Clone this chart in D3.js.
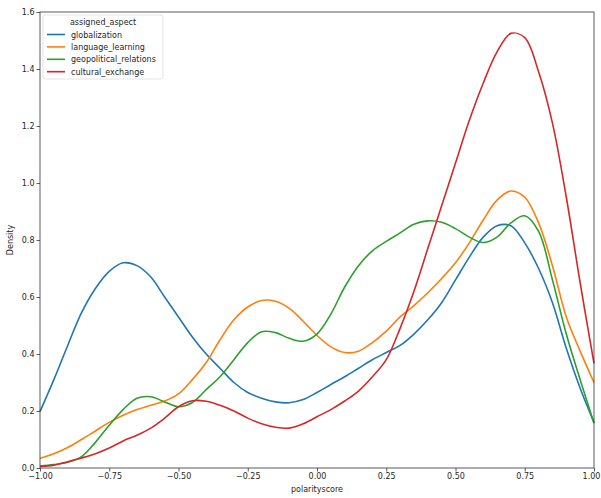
<!DOCTYPE html>
<html>
<head>
<meta charset="utf-8">
<script src="https://cdn.jsdelivr.net/npm/d3@7"></script>
<style>
  body { margin: 0; background: #fff; }
  text { font-family: "DejaVu Sans", sans-serif; fill: #262626; }
</style>
</head>
<body>
<div id="chart"></div>
<script>
// polarity grid shared by all series
const xs = d3.range(41).map(i => -1 + i * 0.05)

const aspects = ["globalization", "language_learning", "geopolitical_relations", "cultural_exchange"]
const colors = ["#1f77b4", "#ff7f0e", "#2ca02c", "#d62728"]

const globalization = [0.198, 0.31, 0.43, 0.545, 0.63, 0.69, 0.72, 0.71, 0.67, 0.60, 0.53, 0.46, 0.40, 0.35, 0.30, 0.265, 0.245, 0.232, 0.229, 0.24, 0.265, 0.293, 0.32, 0.35, 0.38, 0.405, 0.43, 0.47, 0.52, 0.58, 0.66, 0.74, 0.81, 0.85, 0.85, 0.79, 0.70, 0.58, 0.42, 0.28, 0.16]
const language_learning = [0.034, 0.05, 0.072, 0.10, 0.13, 0.16, 0.185, 0.205, 0.22, 0.235, 0.26, 0.31, 0.37, 0.45, 0.52, 0.565, 0.588, 0.585, 0.56, 0.515, 0.465, 0.425, 0.405, 0.41, 0.44, 0.48, 0.53, 0.57, 0.615, 0.665, 0.72, 0.79, 0.87, 0.94, 0.972, 0.95, 0.86, 0.71, 0.53, 0.41, 0.30]
const geopolitical_relations = [0.007, 0.012, 0.02, 0.04, 0.09, 0.15, 0.205, 0.245, 0.25, 0.232, 0.215, 0.23, 0.275, 0.32, 0.38, 0.44, 0.478, 0.475, 0.455, 0.445, 0.47, 0.54, 0.635, 0.71, 0.762, 0.795, 0.825, 0.855, 0.867, 0.862, 0.84, 0.81, 0.791, 0.81, 0.86, 0.885, 0.83, 0.66, 0.47, 0.31, 0.157]
const cultural_exchange = [0.005, 0.01, 0.022, 0.035, 0.05, 0.07, 0.095, 0.115, 0.14, 0.175, 0.215, 0.236, 0.234, 0.22, 0.2, 0.175, 0.155, 0.143, 0.14, 0.155, 0.18, 0.205, 0.235, 0.27, 0.32, 0.38, 0.49, 0.62, 0.77, 0.92, 1.07, 1.22, 1.35, 1.46, 1.525, 1.51, 1.39, 1.21, 0.95, 0.65, 0.367]

const xTicks = [-1, -0.75, -0.5, -0.25, 0, 0.25, 0.5, 0.75, 1]
const yTicks = [0, 0.2, 0.4, 0.6, 0.8, 1.0, 1.2, 1.4, 1.6]

const series = [globalization, language_learning, geopolitical_relations, cultural_exchange]

const MARGIN = { TOP: 12, BOTTOM: 30, LEFT: 40, RIGHT: 7 }
const W = 601, H = 498
const WIDTH = W - MARGIN.LEFT - MARGIN.RIGHT
const HEIGHT = H - MARGIN.TOP - MARGIN.BOTTOM

const svg = d3.select("#chart").append("svg")
    .attr("width", W)
    .attr("height", H)

const g = svg.append("g")
    .attr("transform", `translate(${MARGIN.LEFT}, ${MARGIN.TOP})`)

const x = d3.scaleLinear().domain([-1, 1]).range([0, WIDTH])
const y = d3.scaleLinear().domain([0, 1.6]).range([HEIGHT, 0])

const fmtX = d => d3.format(".2f")(d).replace("-", "\u2212")

const xAxis = g.append("g")
    .attr("transform", `translate(0, ${HEIGHT})`)
    .call(d3.axisBottom(x).tickValues(xTicks).tickFormat(fmtX).tickSize(3.5).tickPadding(2))
const yAxis = g.append("g")
    .call(d3.axisLeft(y).tickValues(yTicks).tickFormat(d3.format(".1f")).tickSize(3.5).tickPadding(2))

;[xAxis, yAxis].forEach(a => {
    a.select(".domain").remove()
    a.selectAll("line").attr("stroke", "#333").attr("stroke-width", 0.8)
    a.selectAll("text").style("font-size", "8px").attr("fill", "#262626")
})
// last x label sits on the window edge, nudge it in so it is not clipped
xAxis.selectAll(".tick text").filter(d => d === 1).attr("dx", "-3")

// curves
const line = d3.line()
    .x((d, i) => x(xs[i]))
    .y(d => y(d))
    .curve(d3.curveCatmullRom.alpha(0.5))

g.append("g").selectAll("path")
    .data(series)
    .join("path")
    .attr("d", line)
    .attr("fill", "none")
    .attr("stroke", (d, i) => colors[i])
    .attr("stroke-width", 1.6)

// frame
g.append("rect")
    .attr("width", WIDTH)
    .attr("height", HEIGHT)
    .attr("fill", "none")
    .attr("stroke", "#333")
    .attr("stroke-width", 0.8)

// axis labels
g.append("text")
    .attr("x", WIDTH / 2)
    .attr("y", HEIGHT + 24)
    .attr("text-anchor", "middle")
    .style("font-size", "8px")
    .text("polarityscore")

g.append("text")
    .attr("transform", `translate(${-27}, ${HEIGHT / 2}) rotate(-90)`)
    .attr("text-anchor", "middle")
    .style("font-size", "8px")
    .text("Density")

// legend
const legend = g.append("g").attr("transform", "translate(3, 3)")
legend.append("rect")
    .attr("width", 120)
    .attr("height", 64)
    .attr("rx", 2)
    .attr("fill", "#fff")
    .attr("fill-opacity", 0.8)
    .attr("stroke", "#ddd")
    .attr("stroke-width", 0.8)
legend.append("text")
    .attr("x", 60)
    .attr("y", 10)
    .attr("text-anchor", "middle")
    .style("font-size", "8px")
    .text("assigned_aspect")

const items = legend.selectAll(".item")
    .data(aspects)
    .join("g")
    .attr("class", "item")
    .attr("transform", (d, i) => `translate(0, ${19.5 + i * 12.4})`)
items.append("line")
    .attr("x1", 4).attr("x2", 22)
    .attr("stroke", (d, i) => colors[i])
    .attr("stroke-width", 1.6)
items.append("text")
    .attr("x", 28)
    .attr("y", 3)
    .style("font-size", "8px")
    .text(d => d)
</script>
</body>
</html>
